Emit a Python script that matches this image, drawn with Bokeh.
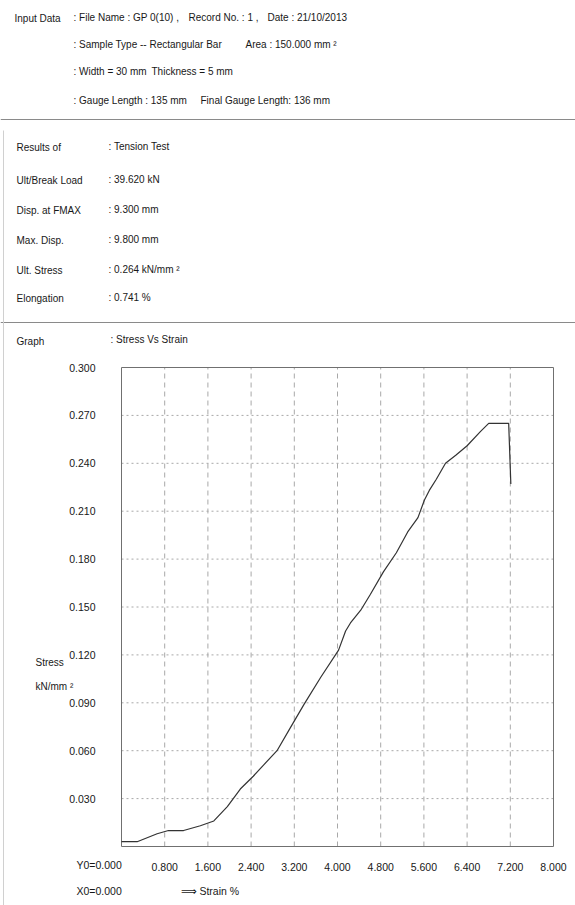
from bokeh.plotting import figure
from bokeh.models import Range1d, FixedTicker, LinearAxis, ColumnDataSource
from bokeh.embed import file_html
from bokeh.resources import INLINE
from bokeh.core.properties import value

FONT = "Liberation Sans"
INK = "#181818"

# ---------------- data ----------------
input_title = "Input Data"
input_texts = [": File Name : GP 0(10) ,", "Record No. : 1 ,", "Date : 21/10/2013",
               ": Sample Type -- Rectangular Bar", "Area : 150.000 mm \u00b2",
               ": Width = 30 mm", "Thickness = 5 mm",
               ": Gauge Length : 135 mm", "Final Gauge Length: 136 mm"]
result_names = ["Results of", "Ult/Break Load", "Disp. at FMAX", "Max. Disp.", "Ult. Stress", "Elongation"]
result_values = [": Tension Test", ": 39.620  kN", ": 9.300  mm", ": 9.800  mm",
                 ": 0.264  kN/mm \u00b2", ": 0.741  %"]
graph_name = "Graph"
graph_title = ": Stress Vs Strain"

strain = [0.0, 0.29, 0.66, 0.87, 1.15, 1.46, 1.71, 1.96, 2.20, 2.44, 2.63, 2.88, 3.12,
          3.38, 3.69, 4.02, 4.15, 4.24, 4.43, 4.61, 4.85, 5.09, 5.30, 5.49, 5.61, 5.70,
          5.83, 6.00, 6.19, 6.40, 6.65, 6.80, 7.17, 7.21]
stress = [0.003, 0.003, 0.008, 0.010, 0.010, 0.013, 0.016, 0.025, 0.036, 0.044, 0.051,
          0.060, 0.074, 0.089, 0.106, 0.123, 0.135, 0.140, 0.148, 0.158, 0.172, 0.184,
          0.197, 0.206, 0.217, 0.223, 0.230, 0.240, 0.245, 0.251, 0.260, 0.265, 0.265, 0.227]

x_ticks = [0.0, 0.8, 1.6, 2.4, 3.2, 4.0, 4.8, 5.6, 6.4, 7.2, 8.0]
x_tick_labels = ["", "0.800", "1.600", "2.400", "3.200", "4.000", "4.800", "5.600", "6.400", "7.200", "8.000"]
y_ticks = [0.03, 0.06, 0.09, 0.12, 0.15, 0.18, 0.21, 0.24, 0.27, 0.30]
y_tick_labels = ["0.030", "0.060", "0.090", "0.120", "0.150", "0.180", "0.210", "0.240", "0.270", "0.300"]
y_label_lines = ["Stress", "kN/mm \u00b2"]
origin_labels = ["Y0=0.000", "X0=0.000"]
x_label = "\u27f9 Strain  %"

# ---------------- geometry: the frame covers the whole page ----------------
W, H = 575, 905
FL, FR, FT, FB = 121, 553, 367, 846          # chart box edges on the page (pixels)
X0, X1, Y0, Y1 = 0.0, 8.0, 0.0, 0.3           # chart data limits
KX = (FR - FL) / (X1 - X0)
KY = (FB - FT) / (Y1 - Y0)

p = figure(width=W, height=H,
           x_range=Range1d(X0 - FL / KX, X0 + (W - FL) / KX),
           y_range=Range1d(Y0 - (H - FB) / KY, Y0 + FB / KY),
           output_backend="svg", toolbar_location=None,
           x_axis_location=None, y_axis_location=None, min_border=0)
p.grid.visible = False
p.outline_line_color = None


def px_to_data(px, py):
    """page pixel position -> data coordinates (for placing page texts/rules)"""
    return X0 + (px - FL) / KX, Y0 + (FB - py) / KY


# ---------------- page texts ----------------
txt = dict(x=[], y=[], t=[], s=[])


def put(px, py, text, size="10px"):
    x, y = px_to_data(px, py)
    txt["x"].append(x)
    txt["y"].append(y)
    txt["t"].append(text)
    txt["s"].append(size)


put(14, 18, input_title)
in_pos = [(73, 17), (188, 17), (267, 17), (73, 44), (245, 44), (73, 71), (151, 71), (73, 100), (200, 100)]
for (px, py), t in zip(in_pos, input_texts):
    put(px, py, t)
res_y = [147, 180, 210, 240, 270, 298]
for py, n, v in zip(res_y, result_names, result_values):
    put(16, py, n)
    put(108, py - 1, v)
put(16, 341, graph_name)
put(110, 339, graph_title)
put(35, 662, y_label_lines[0])
put(35, 686, y_label_lines[1])
put(76, 864, origin_labels[0], "10.5px")
put(76, 890, origin_labels[1], "10.5px")
put(180, 890, x_label, "10.5px")

p.text("x", "y", text="t", text_font_size="s", source=ColumnDataSource(txt),
       text_font=value(FONT), text_color=INK, text_baseline="middle", text_align="left")

# horizontal rules of the report and the faint scan edge on the left
rules_y = [119, 322]
ra = [px_to_data(0, py) for py in rules_y]
rb = [px_to_data(W, py) for py in rules_y]
p.segment(x0=[a[0] for a in ra], y0=[a[1] for a in ra], x1=[b[0] for b in rb], y1=[b[1] for b in rb],
          line_color="#8a8a8a", line_width=1.2)
ea, eb = px_to_data(3, 130), px_to_data(3, H)
p.segment(x0=[ea[0]], y0=[ea[1]], x1=[eb[0]], y1=[eb[1]], line_color="#d0d0d0", line_width=1)

# ---------------- chart ----------------
gx = x_ticks[1:-1]
p.segment(x0=gx, y0=[Y0] * len(gx), x1=gx, y1=[Y1] * len(gx),
          line_color="#a8a8a8", line_dash="5 4", line_width=1)
gy = y_ticks[:-1]
p.segment(x0=[X0] * len(gy), y0=gy, x1=[X1] * len(gy), y1=gy,
          line_color="#a8a8a8", line_dash="2 3", line_width=1)
p.quad(left=[X0], right=[X1], bottom=[Y0], top=[Y1], fill_color=None,
       line_color="#707070", line_width=1)

p.line(strain, stress, line_color="#333333", line_width=1.2)

xaxis = LinearAxis(fixed_location=Y0, ticker=FixedTicker(ticks=x_ticks),
                   major_label_overrides={t: l for t, l in zip(x_ticks, x_tick_labels)})
yaxis = LinearAxis(fixed_location=X0, ticker=FixedTicker(ticks=y_ticks),
                   major_label_overrides={t: l for t, l in zip(y_ticks, y_tick_labels)})
for ax in (xaxis, yaxis):
    ax.axis_line_color = None
    ax.major_tick_line_color = None
    ax.minor_tick_line_color = None
    ax.major_label_text_font = FONT
    ax.major_label_text_font_size = "10.5px"
    ax.major_label_text_color = INK
yaxis.major_label_standoff = 20
xaxis.major_label_standoff = 10
p.add_layout(xaxis, "below")
p.add_layout(yaxis, "left")

open("out.html", "w").write(file_html(p, INLINE))
